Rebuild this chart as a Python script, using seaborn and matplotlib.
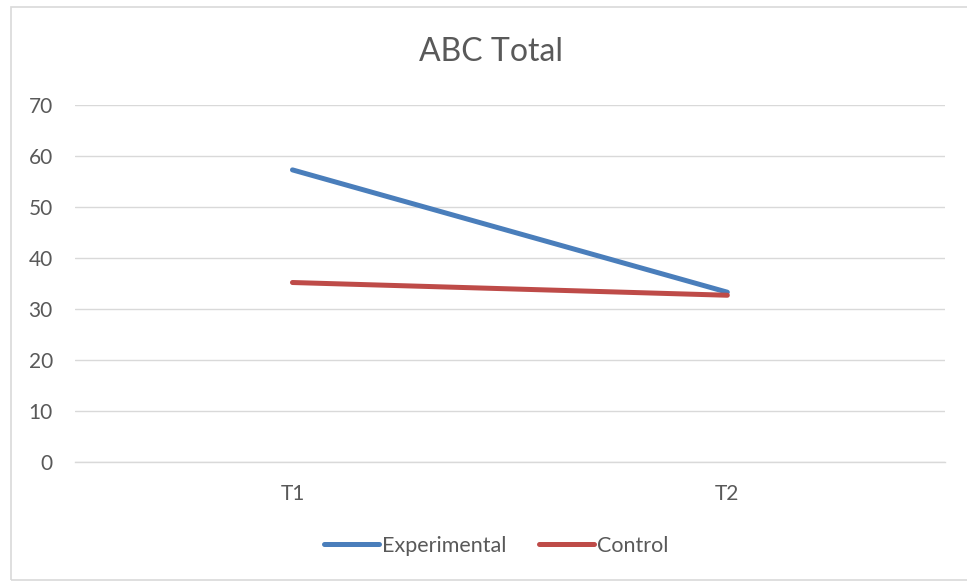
import pandas as pd
import matplotlib.pyplot as plt
import matplotlib.patches as mpatches
import seaborn as sns

# Data
times = ['T1', 'T2']
experimental = [57.3, 33.3]
control = [35.2, 32.7]

df = pd.DataFrame({
    'Time': times * 2,
    'Score': experimental + control,
    'Group': ['Experimental'] * 2 + ['Control'] * 2,
})

sns.set_style('white')
plt.rcParams['font.family'] = ['Lato', 'DejaVu Sans']

fig = plt.figure(figsize=(9.67, 5.81), dpi=100)
ax = fig.add_axes([0.0776, 0.205, 0.8994, 0.614])

palette = {'Experimental': '#4A7EBB', 'Control': '#BE4B48'}
sns.lineplot(data=df, x='Time', y='Score', hue='Group', palette=palette,
             linewidth=3.6, ax=ax, sort=False)
for line in ax.lines:
    line.set_solid_capstyle('round')

ax.set_xlim(-0.5, 1.5)
ax.set_ylim(0, 70)
ax.set_yticks(range(0, 71, 10))
ax.yaxis.grid(True, color='#D9D9D9', linewidth=1)
ax.set_axisbelow(True)
for s in ['left', 'right', 'top']:
    ax.spines[s].set_visible(False)
ax.spines['bottom'].set_color('#D9D9D9')
ax.spines['bottom'].set_linewidth(1)
ax.tick_params(axis='both', length=0, labelsize=15, labelcolor='#595959')
ax.tick_params(axis='y', pad=16)
ax.tick_params(axis='x', pad=16)
ax.set_xlabel('')
ax.set_ylabel('')

fig.text(0.508, 0.91, 'ABC Total', ha='center', va='center',
         fontsize=23, color='#595959')

leg = ax.legend(loc='center', bbox_to_anchor=(0.484, -0.235), ncol=2,
                frameon=False, fontsize=15.5, handlelength=2.55,
                handletextpad=0.15, columnspacing=1.5)
for t in leg.get_texts():
    t.set_color('#595959')
for h in leg.get_lines():
    h.set_linewidth(3.6)
    h.set_solid_capstyle('round')

# chart border
fig.patches.append(mpatches.Rectangle((0.011, 0.002), 1.0, 0.986,
                                      transform=fig.transFigure,
                                      fill=False, edgecolor='#D9D9D9',
                                      linewidth=1.2))

fig.savefig('out.png', dpi=100, facecolor='white')
